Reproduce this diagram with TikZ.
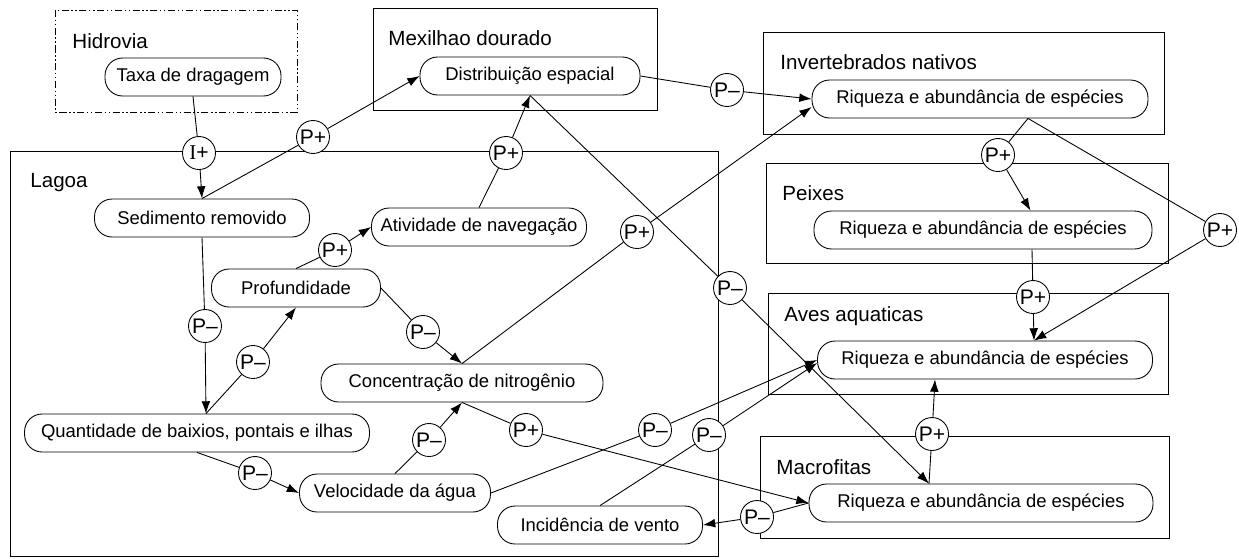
\documentclass[tikz,border=0pt]{standalone}
\usepackage{fontspec}
\setmainfont{Liberation Sans}
\newfontfamily\serifI{Liberation Serif}
\usetikzlibrary{arrows.meta,calc}

\begin{document}
\begin{tikzpicture}[x=0.02cm, y=-0.02cm, line width=0.5pt,
    box/.style={draw, rounded corners=10pt, fill=white, minimum height=0.76cm, inner sep=0pt, font=\fontsize{10.5}{12}\selectfont},
    sign/.style={circle, draw, fill=white, minimum size=0.66cm, inner sep=0pt, font=\fontsize{12}{13}\selectfont},
    title/.style={anchor=west, inner sep=0pt, font=\fontsize{11.7}{13}\selectfont},
    link/.style={-{Latex[length=7pt,width=5pt]}}]
      \useasboundingbox (0,0) rectangle (1239,558);
      % frames
      \draw[dash pattern=on 4pt off 1.5pt on 0.8pt off 1.5pt on 0.8pt off 1.5pt] (55,10) rectangle (297,112);
      \draw (373,8) rectangle (657,110);
      \draw (10,151) rectangle (718,556);
      \draw (763,32) rectangle (1164,134);
      \draw (766,163) rectangle (1168,263);
      \draw (768,293) rectangle (1168,394);
      \draw (760,436) rectangle (1169,538);
      \node[title] (hid) at (72,41) {Hidrovia};
      \node[title] (mex) at (388,38) {Mexilhao dourado};
      \node[title] (lag) at (30,183) {Lagoa};
      \node[title] (inv) at (780,62) {Invertebrados nativos};
      \node[title] (pei) at (782,193) {Peixes};
      \node[title] (ave) at (784,316) {Aves aquaticas};
      \node[title] (mac) at (776,467) {Macrofitas};
      % variables
      \node[box, minimum width=3.52cm] (taxa) at (193,77) {Taxa de dragagem};
      \node[box, minimum width=4.4cm] (dist) at (530,76) {Distribuição espacial};
      \node[box, minimum width=6.72cm] (invr) at (980,99) {Riqueza e abundância de espécies};
      \node[box, minimum width=4.3cm] (sed) at (202,218) {Sedimento removido};
      \node[box, minimum width=4.3cm] (ativ) at (479,227) {Atividade de navegação};
      \node[box, minimum width=3.38cm] (prof) at (296,288) {Profundidade};
      \node[box, minimum width=6.76cm] (peir) at (983,230) {Riqueza e abundância de espécies};
      \node[box, minimum width=5.64cm] (nitro) at (462,383) {Concentração de nitrogênio};
      \node[box, minimum width=6.7cm] (aver) at (985,360) {Riqueza e abundância de espécies};
      \node[box, minimum width=6.9cm] (quant) at (197,433) {Quantidade de baixios, pontais e ilhas};
      \node[box, minimum width=3.82cm] (vel) at (395,493) {Velocidade da água};
      \node[box, minimum width=4.1cm] (vento) at (600,525) {Incidência de vento};
      \node[box, minimum width=6.88cm] (macr) at (981,503) {Riqueza e abundância de espécies};
      % attachment points
      \coordinate (qtop) at ([xshift=0.18cm]quant.north);
      \coordinate (mtop) at ([xshift=-1.04cm]macr.north);
      \coordinate (ibot) at ([xshift=0.96cm]invr.south);
      \coordinate (ptop) at ([xshift=0.95cm]peir.north);
      \coordinate (pbot) at ([xshift=0.98cm]peir.south);
      \coordinate (atop) at ([xshift=0.98cm]aver.north);
      \coordinate (abot) at ([xshift=-1cm]aver.south);
      \coordinate (ilow) at ([yshift=-0.16cm]invr.west);
      \coordinate (alow) at ([yshift=-0.06cm]aver.west);
      % signs
      \node[sign] (c1) at (199,153) {{\serifI I}+};
      \node[sign] (c2) at (313,137) {P+};
      \node[sign] (c3) at (727,90) {P--};
      \node[sign] (c4) at (506,153) {P+};
      \node[sign] (c5) at (730,288) {P--};
      \node[sign] (c6) at (637,232) {P+};
      \node[sign] (c7) at (423,332) {P--};
      \node[sign] (c8) at (335,250) {P+};
      \node[sign] (c9) at (205,326) {P--};
      \node[sign] (c10) at (253,362) {P--};
      \node[sign] (c11) at (255,473) {P--};
      \node[sign] (c12) at (429,440) {P--};
      \node[sign] (c13) at (526,430) {P+};
      \node[sign] (c14) at (655,430) {P--};
      \node[sign] (c15) at (709,435) {P--};
      \node[sign] (c16) at (932,434) {P+};
      \node[sign] (c17) at (757,517) {P--};
      \node[sign] (c18) at (998,155) {P+};
      \node[sign] (c19) at (1220,230) {P+};
      \node[sign] (c20) at (1033,297) {P+};
      \foreach \source/\via/\dest in {taxa.south/c1/sed.north, sed.north/c2/dist.west, dist.east/c3/invr.west,
          ativ.north/c4/dist.south, dist.south/c5/mtop, nitro.north/c6/ilow, prof.east/c7/nitro.north,
          prof.north/c8/ativ.west, sed.south/c9/qtop, qtop/c10/prof.south, quant.south/c11/vel.west,
          vel.north/c12/nitro.south, nitro.south/c13/macr.west, vel.east/c14/aver.west, vento.north/c15/alow,
          mtop/c16/abot, macr.west/c17/vento.east, ibot/c18/ptop, ibot/c19/atop, pbot/c20/atop}
        \path (\source) edge (\via) (\via) edge[link] (\dest);
\end{tikzpicture}
\end{document}
